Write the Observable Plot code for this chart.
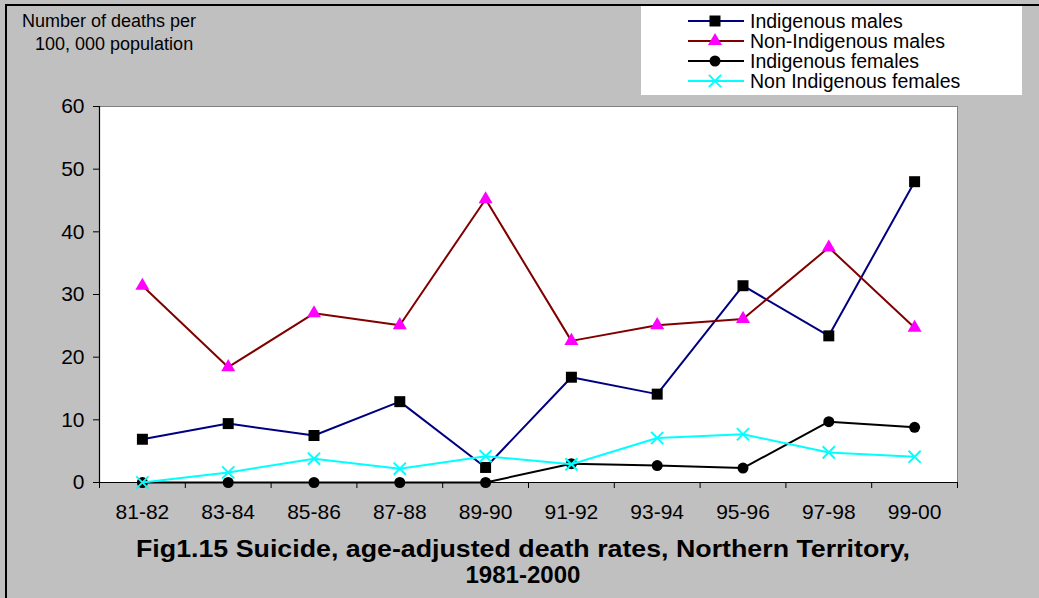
<!DOCTYPE html>
<html>
<head>
<meta charset="utf-8">
<script src="https://cdn.jsdelivr.net/npm/d3@7"></script>
<script src="https://cdn.jsdelivr.net/npm/@observablehq/plot@0.6"></script>
<style>
  html, body { margin: 0; padding: 0; background: #c0c0c0; }
  #wrap { position: relative; width: 1039px; height: 598px; overflow: hidden; background: #c0c0c0; font-family: "Liberation Sans", Arial, sans-serif; }
  #wrap > svg { position: absolute; left: 0; top: 0; }
</style>
</head>
<body>
<div id="wrap"></div>
<script>
// ---- data ----
const periods = ["81-82", "83-84", "85-86", "87-88", "89-90", "91-92", "93-94", "95-96", "97-98", "99-00"];
const indigenousMales = [6.9, 9.4, 7.5, 12.9, 2.4, 16.8, 14.1, 31.4, 23.4, 48.0];
const nonIndigenousMales = [31.4, 18.4, 27.0, 25.1, 45.2, 22.6, 25.1, 26.1, 37.5, 24.7];
const indigenousFemales = [0, 0, 0, 0, 0, 3.0, 2.7, 2.3, 9.7, 8.8];
const nonIndigenousFemales = [0, 1.6, 3.8, 2.2, 4.2, 2.9, 7.1, 7.7, 4.8, 4.1];
const yTicks = [0, 10, 20, 30, 40, 50, 60];
const seriesNames = ["Indigenous males", "Non-Indigenous males", "Indigenous females", "Non Indigenous females"];
const yLabelLines = ["Number of deaths per", "100, 000 population"];
const titleLines = ["Fig1.15 Suicide, age-adjusted death rates, Northern Territory,", "1981-2000"];

// ---- styles per series ----
const styles = [
  {line: "#000080", symbol: "square", fill: "#000000", stroke: "none", r: 6.2},
  {line: "#800000", symbol: "triangle", fill: "#ff00ff", stroke: "none", r: 5.2},
  {line: "#000000", symbol: "circle", fill: "#000000", stroke: "none", r: 5.5},
  {line: "#00ffff", symbol: "times", fill: "none", stroke: "#00ffff", r: 5.6}
];
const seriesValues = [indigenousMales, nonIndigenousMales, indigenousFemales, nonIndigenousFemales];
const series = seriesValues.map((vals, s) => vals.map((v, i) => ({x: i + 0.5, y: v, s})));

const W = 1039, H = 598;
const marks = [
  Plot.frame({fill: "white", stroke: "#808080"}),
  Plot.axisY(yTicks, {label: null, tickSize: 6, tickPadding: 9, fontSize: 21, stroke: "black", fill: "black"}),
  Plot.axisX(d3.range(periods.length + 1), {label: null, tickSize: 6, tickFormat: () => "", stroke: "black"}),
  Plot.axisX(periods.map((p, i) => i + 0.5), {label: null, tickSize: 0, tickPadding: 22, fontSize: 21, fill: "black", tickFormat: d => periods[Math.floor(d)]}),
  Plot.ruleX([0], {stroke: "black", strokeWidth: 1.2}),
  Plot.ruleY([0], {stroke: "black", strokeWidth: 1.2})
];
series.forEach((data, s) => {
  const st = styles[s];
  marks.push(Plot.line(data, {x: "x", y: "y", stroke: st.line, strokeWidth: 2}));
  marks.push(Plot.dot(data, {x: "x", y: "y", symbol: st.symbol, r: st.r, fill: st.fill, stroke: st.stroke, strokeWidth: st.symbol === "times" ? 2 : 0}));
});

const chart = Plot.plot({
  width: W, height: H,
  marginLeft: 99, marginRight: W - 957, marginTop: 106, marginBottom: H - 482,
  x: {domain: [0, periods.length], axis: null},
  y: {domain: [0, 60], axis: null},
  style: {background: "transparent", color: "black", fontFamily: "'Liberation Sans', Arial, sans-serif", overflow: "visible"},
  marks
});
const wrap = document.getElementById("wrap");
wrap.appendChild(chart);

// ---- overlay: border, y label, legend, title ----
const ov = d3.select(wrap).append("svg").attr("width", W).attr("height", H)
  .style("font-family", "'Liberation Sans', Arial, sans-serif");

// legend box
const lg = ov.append("g");
lg.append("rect").attr("x", 641).attr("y", 5).attr("width", 381).attr("height", 90).attr("fill", "white");
const rowY = [21, 41, 61, 81];
const symMap = {square: d3.symbolSquare, triangle: d3.symbolTriangle, circle: d3.symbolCircle, times: d3.symbolTimes};
seriesNames.forEach((name, s) => {
  const st = styles[s];
  const y = rowY[s];
  lg.append("line").attr("x1", 688).attr("x2", 744).attr("y1", y).attr("y2", y)
    .attr("stroke", st.line).attr("stroke-width", 2);
  lg.append("path").attr("transform", `translate(715,${y})`)
    .attr("d", d3.symbol(symMap[st.symbol], Math.PI * st.r * st.r)())
    .attr("fill", st.fill).attr("stroke", st.stroke).attr("stroke-width", st.symbol === "times" ? 2 : 0);
  lg.append("text").attr("x", 750).attr("y", y).attr("dy", "0.36em")
    .attr("font-size", 19.5).attr("fill", "black").text(name);
});

// border lines
ov.append("line").attr("x1", 5).attr("x2", W).attr("y1", 5).attr("y2", 5).attr("stroke", "black").attr("stroke-width", 2);
ov.append("line").attr("x1", 6).attr("x2", 6).attr("y1", 5).attr("y2", H).attr("stroke", "black").attr("stroke-width", 2);

// y label
ov.append("text").attr("x", 22).attr("y", 27).attr("font-size", 18).attr("fill", "black").text(yLabelLines[0]);
ov.append("text").attr("x", 35).attr("y", 50).attr("font-size", 18).attr("fill", "black").text(yLabelLines[1]);

// title
ov.append("text").attr("x", 523).attr("y", 557).attr("text-anchor", "middle")
  .attr("font-size", 24).attr("font-weight", "bold").attr("fill", "black")
  .attr("textLength", 774).attr("lengthAdjust", "spacingAndGlyphs").text(titleLines[0]);
ov.append("text").attr("x", 523).attr("y", 583).attr("text-anchor", "middle")
  .attr("font-size", 24).attr("font-weight", "bold").attr("fill", "black")
  .attr("textLength", 115).attr("lengthAdjust", "spacingAndGlyphs").text(titleLines[1]);
</script>
</body>
</html>
